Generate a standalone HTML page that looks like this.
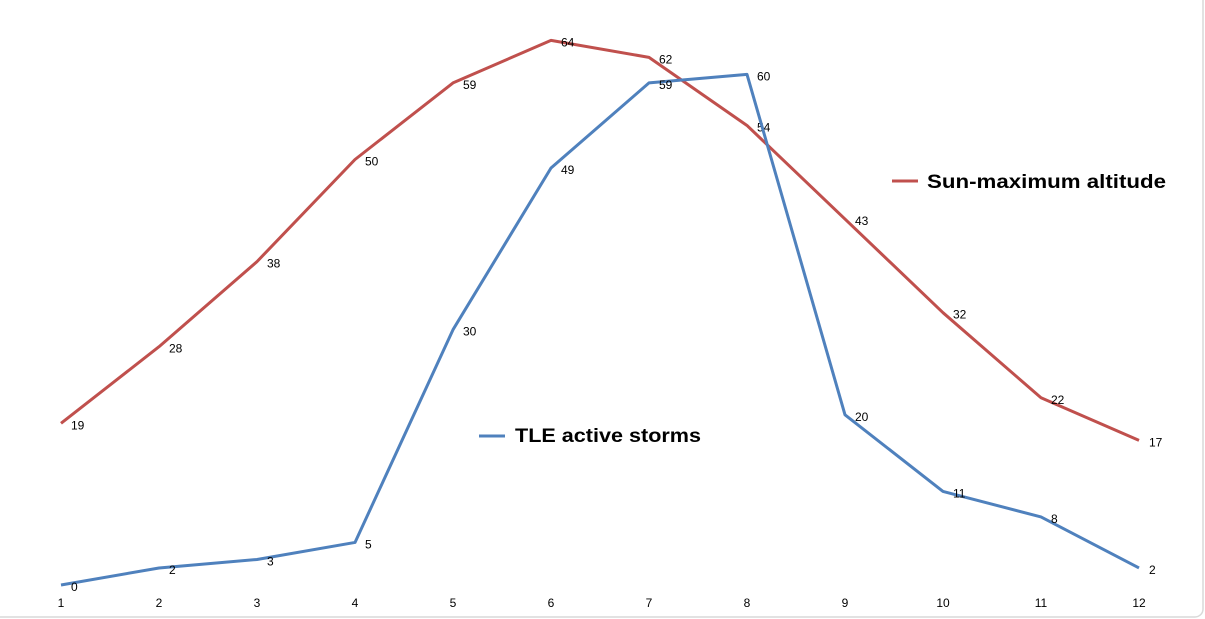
<!DOCTYPE html>
<html><head><meta charset="utf-8"><style>
html,body{margin:0;padding:0;background:#fff;}
svg{display:block;font-family:"Liberation Sans",sans-serif;}
</style></head><body>
<svg id="chart" width="1205" height="619">
<rect x="-10" y="-10" width="1213" height="627" rx="8" fill="#fff" stroke="#d9d9d9" stroke-width="1.5"/>
<g id="marks"></g>
<g>
<line x1="892" y1="181" x2="918" y2="181" stroke="#c0504d" stroke-width="3"/>
<text x="927" y="188" font-size="19" font-weight="bold" fill="#000" textLength="239" lengthAdjust="spacingAndGlyphs">Sun-maximum altitude</text>
</g>
<g>
<line x1="479" y1="436" x2="505" y2="436" stroke="#4f81bd" stroke-width="3"/>
<text x="515" y="442" font-size="19" font-weight="bold" fill="#000" textLength="186" lengthAdjust="spacingAndGlyphs">TLE active storms</text>
</g>
</svg>
<script>
const categories=[1,2,3,4,5,6,7,8,9,10,11,12];
const sunAltitude=[19,28,38,50,59,64,62,54,43,32,22,17];
const tleStorms=[0,2,3,5,30,49,59,60,20,11,8,2];
const NS="http://www.w3.org/2000/svg";
const g=document.getElementById('marks');
function xPos(i){return 61+i*(1139-61)/(categories.length-1);}
function yPos(v){return 585-v*8.51;}
function mk(t,a){const e=document.createElementNS(NS,t);for(const k in a)e.setAttribute(k,a[k]);g.appendChild(e);return e;}
categories.forEach((c,i)=>{
  const t=mk('text',{x:xPos(i),y:607,'font-size':12,'text-anchor':'middle',fill:'#000'});
  t.textContent=c;
  
  
});
function series(vals,color,name){
  const p=mk('polyline',{points:vals.map((v,i)=>xPos(i)+','+yPos(v)).join(' '),fill:'none',stroke:color,'stroke-width':3,'stroke-linejoin':'round'});
  
  
  vals.forEach((v,i)=>{
    const t=mk('text',{x:xPos(i)+10,y:yPos(v)+6,'font-size':12,fill:'#000'});
    t.textContent=v;
    
    
  });
}
series(sunAltitude,'#c0504d','sun-altitude');
series(tleStorms,'#4f81bd','tle-storms');
</script>
</body></html>
